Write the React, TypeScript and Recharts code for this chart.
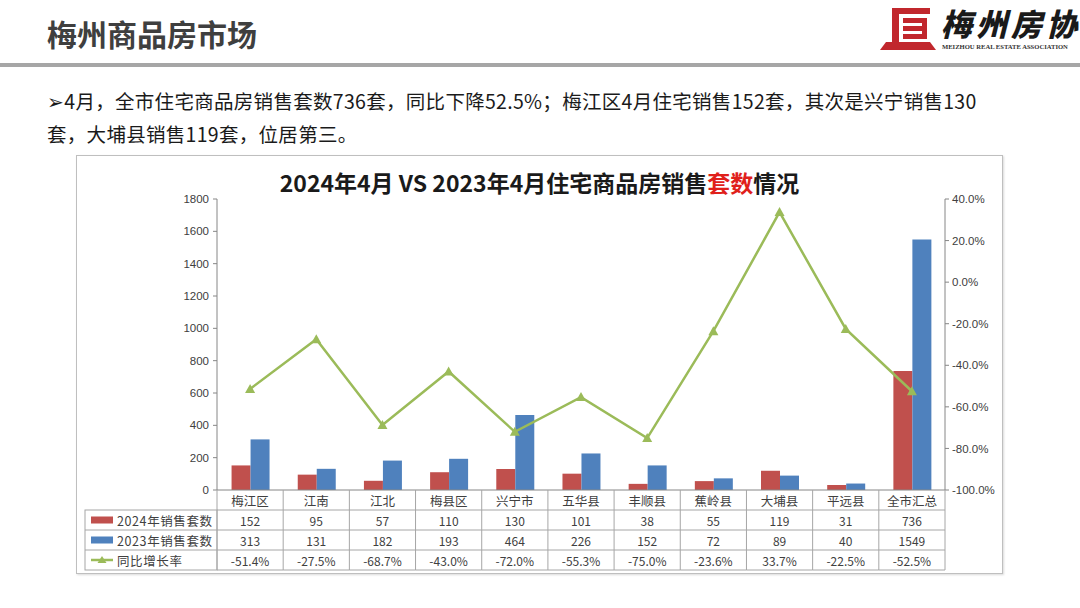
import React from 'react';
import { ComposedChart, Bar, Line, XAxis, YAxis } from 'recharts';

const categories = ['梅江区', '江南', '江北', '梅县区', '兴宁市', '五华县', '丰顺县', '蕉岭县', '大埔县', '平远县', '全市汇总'];
const sales2024 = [152, 95, 57, 110, 130, 101, 38, 55, 119, 31, 736];
const sales2023 = [313, 131, 182, 193, 464, 226, 152, 72, 89, 40, 1549];
const yoyRate = [-0.514, -0.275, -0.687, -0.43, -0.72, -0.553, -0.75, -0.236, 0.337, -0.225, -0.525];
const leftTicks = [0, 200, 400, 600, 800, 1000, 1200, 1400, 1600, 1800];
const rightTicks = [-1, -0.8, -0.6, -0.4, -0.2, 0, 0.2, 0.4];
const seriesNames = ['2024年销售套数', '2023年销售套数', '同比增长率'];

const data = categories.map((c, i) => ({
  name: c,
  s2024: sales2024[i],
  s2023: sales2023[i],
  yoy: yoyRate[i],
}));

const RED = '#C0504D';
const BLUE = '#4F81BD';
const GREEN = '#9BBB59';
const GRID = '#a6a6a6';
const TXT = '#404040';
const FONT = '"Noto Sans CJK SC", "Noto Sans", sans-serif';

const PLOT_LEFT = 217;
const PLOT_RIGHT = 945;
const COL_W = (PLOT_RIGHT - PLOT_LEFT) / categories.length;
const ROW_H = 20;
const LEGEND_LEFT = 85;

const pct = (v: number) => (v * 100).toFixed(1) + '%';

const TableTick = (props: any) => {
  const { x, y, payload, index } = props;
  const i = index as number;
  const l = x - COL_W / 2;
  const r = x + COL_W / 2;
  const rows = [payload.value, String(sales2024[i]), String(sales2023[i]), pct(yoyRate[i])];
  return (
    <g>
      {i === 0 && <line x1={l} y1={y} x2={l} y2={y + ROW_H * 4} stroke={GRID} strokeWidth={1} />}
      <line x1={r} y1={y} x2={r} y2={y + ROW_H * 4} stroke={GRID} strokeWidth={1} />
      {[1, 2, 3, 4].map((k) => (
        <line key={k} x1={l} y1={y + ROW_H * k} x2={r} y2={y + ROW_H * k} stroke={GRID} strokeWidth={1} />
      ))}
      {rows.map((t, k) => (
        <text
          key={k}
          x={x}
          y={y + ROW_H * k + ROW_H / 2}
          textAnchor="middle"
          dominantBaseline="central"
          fontSize={k === 0 ? 12.5 : 12}
          fontFamily={FONT}
          fill={TXT}
        >
          {t}
        </text>
      ))}
      {i === 0 && (
        <g>
          <rect x={LEGEND_LEFT} y={y + ROW_H} width={l - LEGEND_LEFT} height={ROW_H * 3} fill="none" stroke={GRID} strokeWidth={1} />
          {[2, 3].map((k) => (
            <line key={k} x1={LEGEND_LEFT} y1={y + ROW_H * k} x2={l} y2={y + ROW_H * k} stroke={GRID} strokeWidth={1} />
          ))}
          <rect x={LEGEND_LEFT + 6} y={y + ROW_H * 1.5 - 3.5} width={22} height={7} fill={RED} />
          <rect x={LEGEND_LEFT + 6} y={y + ROW_H * 2.5 - 3.5} width={22} height={7} fill={BLUE} />
          <line x1={LEGEND_LEFT + 6} y1={y + ROW_H * 3.5} x2={LEGEND_LEFT + 28} y2={y + ROW_H * 3.5} stroke={GREEN} strokeWidth={2.5} />
          <polygon
            points={`${LEGEND_LEFT + 17},${y + ROW_H * 3.5 - 4} ${LEGEND_LEFT + 21.5},${y + ROW_H * 3.5 + 3} ${LEGEND_LEFT + 12.5},${y + ROW_H * 3.5 + 3}`}
            fill={GREEN}
          />
          {seriesNames.map((s, k) => (
            <text
              key={s}
              x={LEGEND_LEFT + 32}
              y={y + ROW_H * (k + 1) + ROW_H / 2}
              dominantBaseline="central"
              fontSize={12.5}
              letterSpacing={0.6}
              fontFamily={FONT}
              fill={TXT}
            >
              {s}
            </text>
          ))}
        </g>
      )}
    </g>
  );
};

const TriangleDot = (props: any) => {
  const { cx, cy } = props;
  if (cx == null || cy == null) return null;
  return <polygon points={`${cx},${cy - 5} ${cx + 5},${cy + 4} ${cx - 5},${cy + 4}`} fill={GREEN} />;
};

const Logo = () => (
  <div style={{ position: 'absolute', left: 878, top: 6, width: 202, height: 50 }}>
    <svg width={60} height={46} style={{ position: 'absolute', left: 0, top: 0 }}>
      <rect x={14} y={2} width={38} height={6} fill="#c1272d" />
      <rect x={14} y={2} width={7} height={34} fill="#c1272d" />
      <rect x={25} y={12} width={24} height={5} fill="#c1272d" />
      <rect x={25} y={20} width={24} height={5} fill="#c1272d" />
      <rect x={25} y={28} width={24} height={5} fill="#c1272d" />
      <rect x={44} y={12} width={5} height={21} fill="#c1272d" />
      <path d="M2 44 L8 36 L52 36 L58 44 Z" fill="#c1272d" />
    </svg>
    <div
      style={{
        position: 'absolute',
        left: 63,
        top: -1,
        fontFamily: FONT,
        fontWeight: 900,
        fontSize: 31,
        lineHeight: '36px',
        letterSpacing: 4,
        color: '#1a1a1a',
        fontStyle: 'italic',
        whiteSpace: 'nowrap',
      }}
    >
      梅州房协
    </div>
    <div
      style={{
        position: 'absolute',
        left: 64,
        top: 37,
        fontFamily: '"Liberation Serif", serif',
        fontWeight: 700,
        fontSize: 6.6,
        color: '#333',
        whiteSpace: 'nowrap',
      }}
    >
      MEIZHOU REAL ESTATE ASSOCIATION
    </div>
  </div>
);

export default function App() {
  return (
    <div style={{ position: 'absolute', left: 0, top: 0, width: 1080, height: 608, background: '#fff', overflow: 'hidden', fontFamily: FONT }}>
      <div style={{ position: 'absolute', left: 47, top: 13, fontSize: 30, fontWeight: 700, color: '#3f3f3f', lineHeight: '40px', whiteSpace: 'nowrap' }}>
        梅州商品房市场
      </div>
      <Logo />
      <div style={{ position: 'absolute', left: 0, top: 63, width: 1080, height: 4, background: '#a6a6a6' }} />
      <div style={{ position: 'absolute', left: 47, top: 84, fontSize: 19.5, letterSpacing: 0.3, color: '#1a1a1a', lineHeight: '33px', whiteSpace: 'nowrap' }}>
        <div>➢4月，全市住宅商品房销售套数736套，同比下降52.5%；梅江区4月住宅销售152套，其次是兴宁销售130</div>
        <div>套，大埔县销售119套，位居第三。</div>
      </div>
      <div
        style={{
          position: 'absolute',
          left: 76,
          top: 155,
          width: 927,
          height: 419,
          border: '1px solid #bfbfbf',
          boxShadow: '1px 1px 2px rgba(0,0,0,0.15)',
          boxSizing: 'border-box',
        }}
      />
      <div style={{ position: 'absolute', left: 76, top: 166, width: 927, textAlign: 'center', fontSize: 23, fontWeight: 700, color: '#1a1a1a', lineHeight: '32px', whiteSpace: 'nowrap' }}>
        2024年4月 VS 2023年4月住宅商品房销售<span style={{ color: '#e0201b' }}>套数</span>情况
      </div>
      <div style={{ position: 'absolute', left: 0, top: 0 }}>
        <ComposedChart
          width={1080}
          height={608}
          data={data}
          margin={{ top: 199, right: 75, bottom: 38, left: 167 }}
          barGap={0}
          barCategoryGap="22%"
        >
          <XAxis
            dataKey="name"
            xAxisId="x"
            interval={0}
            height={80}
            tickSize={0}
            tickMargin={0}
            tickLine={false}
            axisLine={{ stroke: '#868686' }}
            tick={<TableTick />}
          />
          <YAxis
            yAxisId="left"
            orientation="left"
            width={50}
            domain={[0, 1800]}
            ticks={leftTicks}
            interval={0}
            tickSize={4}
            tickMargin={4}
            tickLine={{ stroke: '#868686' }}
            axisLine={{ stroke: '#868686' }}
            tick={{ fontSize: 11.5, fill: TXT, fontFamily: '"Liberation Sans", sans-serif' }}
          />
          <YAxis
            yAxisId="right"
            orientation="right"
            width={60}
            domain={[-1, 0.4]}
            ticks={rightTicks}
            interval={0}
            tickSize={4}
            tickMargin={3}
            tickLine={{ stroke: '#868686' }}
            axisLine={{ stroke: '#868686' }}
            tickFormatter={pct}
            tick={{ fontSize: 11.5, fill: TXT, fontFamily: '"Liberation Sans", sans-serif' }}
          />
          <Bar dataKey="s2024" xAxisId="x" yAxisId="left" fill={RED} isAnimationActive={false} />
          <Bar dataKey="s2023" xAxisId="x" yAxisId="left" fill={BLUE} isAnimationActive={false} />
          <Line
            dataKey="yoy"
            xAxisId="x"
            yAxisId="right"
            stroke={GREEN}
            strokeWidth={2.5}
            dot={<TriangleDot />}
            activeDot={false}
            isAnimationActive={false}
          />
        </ComposedChart>
      </div>
    </div>
  );
}
